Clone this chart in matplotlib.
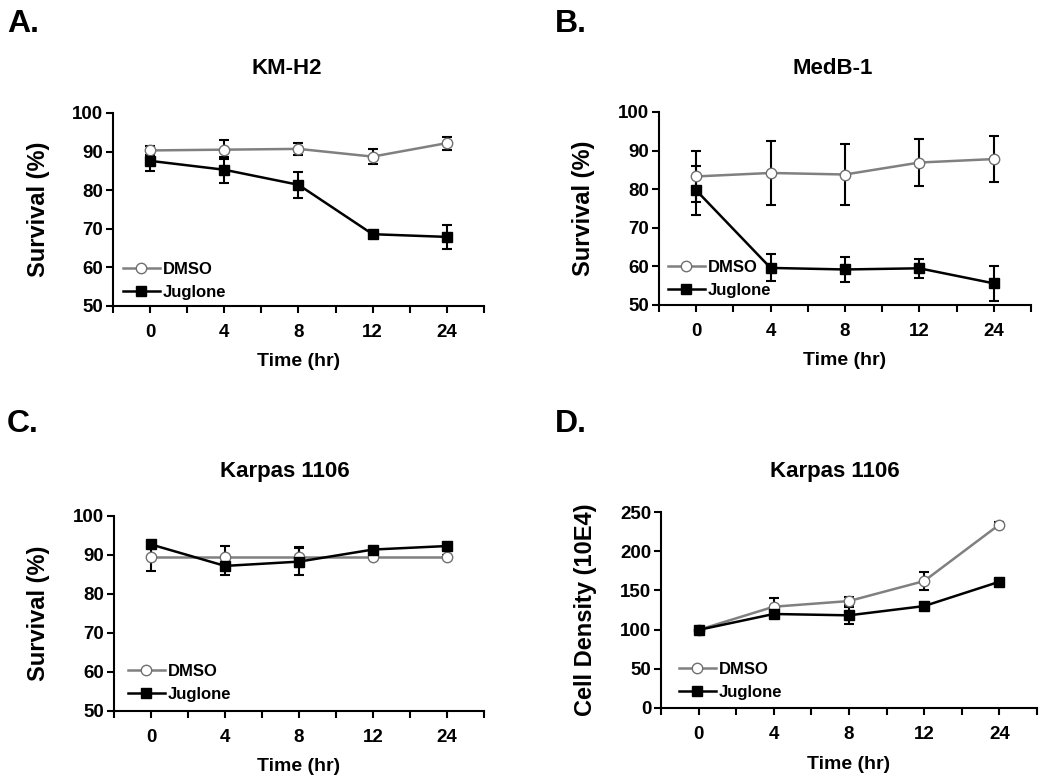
import matplotlib
matplotlib.use("Agg")
import matplotlib.pyplot as plt
from matplotlib.ticker import FixedLocator

plt.rcParams["font.family"] = ["Liberation Sans", "DejaVu Sans"]
plt.rcParams["font.weight"] = "bold"

time_labels = ["0", "4", "8", "12", "24"]

# KM-H2
kmh2_dmso = [90.3, 90.5, 90.7, 88.7, 92.2]
kmh2_dmso_err = [1.2, 2.5, 1.6, 1.9, 1.7]
kmh2_jug = [87.6, 85.3, 81.4, 68.6, 67.9]
kmh2_jug_err = [2.7, 3.4, 3.3, 0.5, 3.1]

# MedB-1
medb_dmso = [83.3, 84.2, 83.8, 86.9, 87.8]
medb_dmso_err = [6.7, 8.4, 8.0, 6.0, 6.0]
medb_jug = [79.7, 59.6, 59.2, 59.5, 55.6]
medb_jug_err = [6.4, 3.5, 3.2, 2.4, 4.5]

# Karpas 1106 survival
karpas_dmso = [89.5, 89.5, 89.5, 89.5, 89.5]
karpas_dmso_err = [3.6, 2.8, 2.6, 0.3, 0.4]
karpas_jug = [92.7, 87.2, 88.3, 91.4, 92.3]
karpas_jug_err = [0.8, 2.3, 3.5, 0.6, 0.6]

# Karpas 1106 cell density
dens_dmso = [99.6, 129.2, 136.4, 161.9, 233.9]
dens_dmso_err = [1.5, 11.0, 5.0, 11.0, 3.0]
dens_jug = [99.6, 119.9, 118.2, 130.0, 161.0]
dens_jug_err = [2.0, 3.0, 11.0, 3.0, 3.0]

panels = [
    ("A.", "KM-H2", "Survival (%)", kmh2_dmso, kmh2_dmso_err, kmh2_jug, kmh2_jug_err,
     (50, 100), [50, 60, 70, 80, 90, 100], [0.1076, 0.6092, 0.3533, 0.2465],
     (0.027, 0.03), -0.17, -0.245),
    ("B.", "MedB-1", "Survival (%)", medb_dmso, medb_dmso_err, medb_jug, medb_jug_err,
     (50, 100), [50, 60, 70, 80, 90, 100], [0.6276, 0.6105, 0.3543, 0.2465],
     (0.024, 0.036), -0.172, -0.245),
    ("C.", "Karpas 1106", "Survival (%)", karpas_dmso, karpas_dmso_err, karpas_jug, karpas_jug_err,
     (50, 100), [50, 60, 70, 80, 90, 100], [0.1086, 0.0920, 0.3524, 0.249],
     (0.038, 0.046), -0.173, -0.241),
    ("D.", "Karpas 1106", "Cell Density (10E4)", dens_dmso, dens_dmso_err, dens_jug, dens_jug_err,
     (0, 250), [0, 50, 100, 150, 200, 250], [0.6295, 0.0958, 0.358, 0.2503],
     (0.048, 0.04), -0.17, -0.245),
]

# letter/title positions in pixels (x, y from top)
letter_pos = [(7, 24), (555, 24), (7, 424), (555, 424)]
title_pos = [(287, 68), (833, 68), (285, 471), (835, 471)]

W, H = 1050, 783
fig = plt.figure(figsize=(10.5, 7.83), dpi=100)

x = list(range(len(time_labels)))
for i, (letter, title, ylab, d, de, j, je, ylim, yticks, rect, leg, ylx, xly) in enumerate(panels):
    ax = fig.add_axes(rect)
    ax.errorbar(x, d, yerr=de, fmt="none", ecolor="black", elinewidth=1.5,
                capsize=3.5, capthick=1.5, zorder=2)
    ax.errorbar(x, j, yerr=je, fmt="none", ecolor="black", elinewidth=1.5,
                capsize=3.5, capthick=1.5, zorder=2)
    ax.plot(x, d, color="#808080", lw=1.8, marker="o", ms=7.5, mfc="white",
            mec="#707070", mew=1.0, label="DMSO", zorder=3)
    ax.plot(x, j, color="black", lw=1.8, marker="s", ms=7.5, mfc="black",
            mec="black", label="Juglone", zorder=4)

    ax.set_xlim(-0.5, 4.5)
    ax.set_ylim(*ylim)
    ax.set_yticks(yticks)
    ax.set_xticks(x)
    ax.set_xticklabels(time_labels)
    ax.xaxis.set_minor_locator(FixedLocator([-0.5, 0.5, 1.5, 2.5, 3.5, 4.5]))
    for s in ["top", "right"]:
        ax.spines[s].set_visible(False)
    for s in ["left", "bottom"]:
        ax.spines[s].set_linewidth(1.5)
    ax.tick_params(axis="both", which="both", direction="out", width=1.5, length=5,
                   labelsize=13.5)
    ax.tick_params(axis="x", which="major", pad=8)
    ax.tick_params(axis="y", pad=2)
    for lbl in ax.get_xticklabels() + ax.get_yticklabels():
        lbl.set_fontweight("bold")

    ax.set_ylabel(ylab, fontsize=17, fontweight="bold")
    ax.yaxis.set_label_coords(ylx, 0.5)
    ax.set_xlabel("Time (hr)", fontsize=14, fontweight="bold")
    ax.xaxis.set_label_coords(0.5, xly)

    ax.legend(loc="lower left", bbox_to_anchor=leg, frameon=False, borderpad=0,
              borderaxespad=0, handlelength=2.2, handletextpad=0.2, labelspacing=0.5,
              prop={"size": 12, "weight": "bold"})

    lx, ly = letter_pos[i]
    fig.text(lx / W, 1 - ly / H, letter, fontsize=23, fontweight="bold",
             ha="left", va="center")
    tx, ty = title_pos[i]
    fig.text(tx / W, 1 - ty / H, title, fontsize=16, fontweight="bold",
             ha="center", va="center")

fig.savefig("out.png", dpi=100)
